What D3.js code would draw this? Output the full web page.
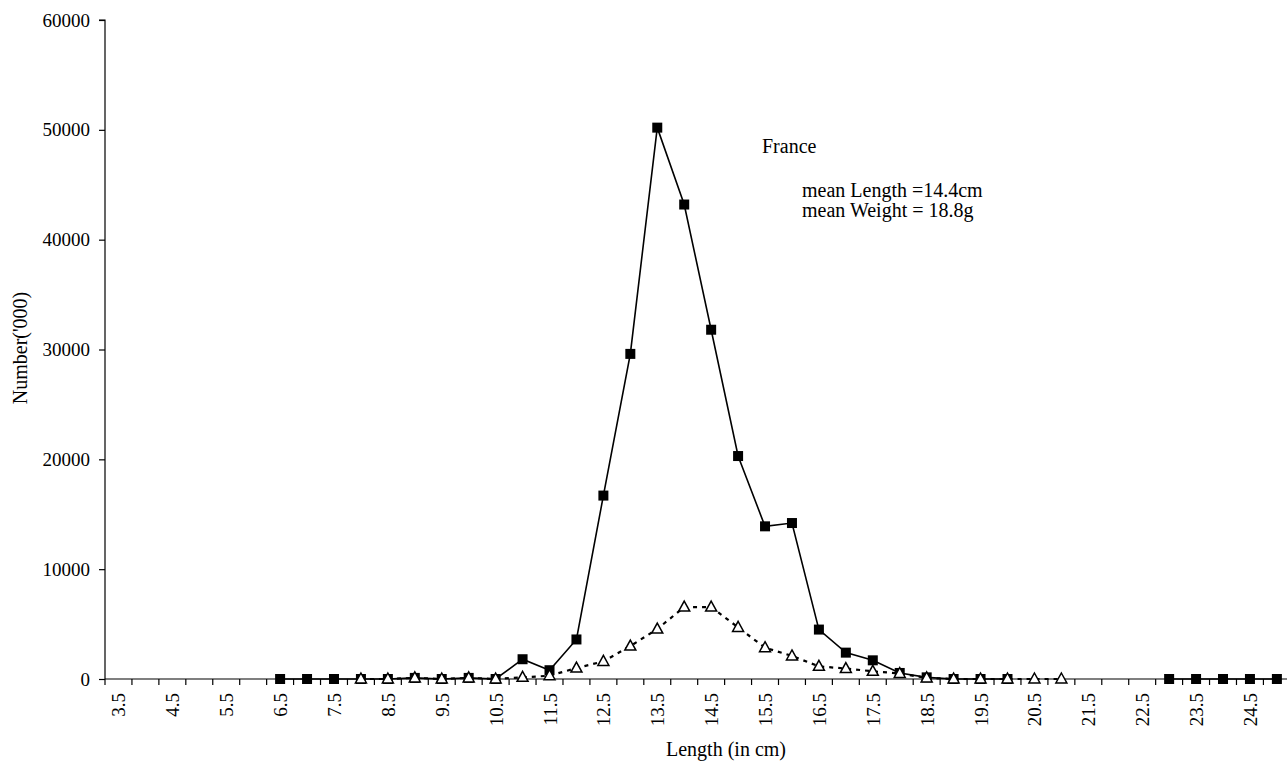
<!DOCTYPE html>
<html><head><meta charset="utf-8">
<script src="https://cdn.jsdelivr.net/npm/d3@7"></script>
<style>
html,body{margin:0;padding:0;background:#fff;}
svg{display:block;font-family:"Liberation Serif","Times New Roman",serif;}
</style></head>
<body>
<svg id="chart" width="1287" height="762"></svg>
<script>
// Length classes (cm)
const categories = ["3.5","4","4.5","5","5.5","6","6.5","7","7.5","8","8.5","9","9.5","10","10.5","11","11.5","12","12.5","13","13.5","14","14.5","15","15.5","16","16.5","17","17.5","18","18.5","19","19.5","20","20.5","21","21.5","22","22.5","23","23.5","24","24.5","25"];
// France numbers ('000), null = no value
const franceValues = [null,null,null,null,null,null,0,0,0,0,0,100,0,100,0,1800,800,3600,16700,29600,50200,43200,31800,20300,13900,14200,4500,2400,1700,550,150,0,0,0,null,null,null,null,null,0,0,0,0,0];
// second series ('000)
const otherValues = [null,null,null,null,null,null,null,null,null,0,0,100,0,100,0,150,300,1000,1600,3000,4550,6550,6550,4700,2850,2100,1150,950,700,500,100,0,0,0,0,0,null,null,null,null,null,null,null,null];
const yTicks = [0,10000,20000,30000,40000,50000,60000];
const xLabels = ["3.5","4.5","5.5","6.5","7.5","8.5","9.5","10.5","11.5","12.5","13.5","14.5","15.5","16.5","17.5","18.5","19.5","20.5","21.5","22.5","23.5","24.5"];
const annotTitle = "France";
const annotLines = ["mean Length =14.4cm","mean Weight = 18.8g"];

(function(){
const svg = d3.select("#chart");
const mLeft = 105, mTop = 20, mBottom = 679, bw = 26.94;
const x = d3.scaleBand().domain(categories).range([mLeft, mLeft + bw*categories.length]).padding(0);
const y = d3.scaleLinear().domain([0,60000]).range([mBottom, mTop]);

// Y axis
const ya = svg.append("g").attr("transform",`translate(${mLeft},0)`)
  .call(d3.axisLeft(y).tickValues(yTicks).tickSize(6).tickPadding(9).tickFormat(d3.format("d")));
ya.select(".domain").attr("stroke","#000").attr("stroke-width",1.2).attr("d",`M-6,${mTop}H0V${mBottom}`);
ya.selectAll(".tick line").attr("stroke","#000").attr("stroke-width",1.2);
ya.selectAll("text").attr("font-size",19).attr("font-family","Liberation Serif").attr("fill","#000");

// X axis line and ticks at category boundaries
const xg = svg.append("g");
xg.append("line").attr("x1",mLeft).attr("x2",x.range()[1]).attr("y1",mBottom).attr("y2",mBottom).attr("stroke","#000").attr("stroke-width",1.2);
const edges = categories.map(c => x(c)).concat([x.range()[1]]);
xg.selectAll("line.tk").data(edges).enter().append("line").attr("class","tk")
  .attr("x1",d=>d).attr("x2",d=>d).attr("y1",mBottom).attr("y2",mBottom+6).attr("stroke","#000").attr("stroke-width",1.2);
xg.selectAll("text.xl").data(xLabels).enter().append("text").attr("class","xl")
  .attr("transform",d=>`translate(${x(d)+x.bandwidth()/2+7},${mBottom+14}) rotate(-90)`)
  .attr("text-anchor","end").attr("font-size",19).attr("fill","#000").text(d=>d);

// axis titles
svg.append("text").attr("x",726).attr("y",756).attr("text-anchor","middle").attr("font-size",20).text("Length (in cm)");
svg.append("text").attr("transform","translate(27,348) rotate(-90)").attr("text-anchor","middle").attr("font-size",20).text("Number('000)");

const cx = i => x(categories[i]) + x.bandwidth()/2;

const line = d3.line().defined(d => d.v !== null).x(d => cx(d.i)).y(d => y(d.v));
const fData = franceValues.map((v,i)=>({v,i}));
const oData = otherValues.map((v,i)=>({v,i}));
// France series
svg.append("path").attr("d",line(fData)).attr("fill","none").attr("stroke","#000").attr("stroke-width",1.6);
svg.selectAll("rect.fr").data(fData.filter(d=>d.v!==null)).enter().append("rect").attr("class","fr")
  .attr("x",d=>cx(d.i)-5).attr("y",d=>y(d.v)-5).attr("width",10).attr("height",10).attr("fill","#000");

// second series
svg.append("path").attr("d",line(oData)).attr("fill","none").attr("stroke","#000").attr("stroke-width",2.2).attr("stroke-dasharray","4,5");
svg.selectAll("path.tri").data(oData.filter(d=>d.v!==null)).enter().append("path").attr("class","tri")
  .attr("d",d=>{const X=cx(d.i),Y=y(d.v);return `M${X},${Y-6}L${X+5.5},${Y+4}L${X-5.5},${Y+4}Z`;})
  .attr("fill","#fff").attr("stroke","#000").attr("stroke-width",1.5);

// annotations
svg.append("text").attr("x",762).attr("y",153).attr("font-size",20).text(annotTitle);
svg.selectAll("text.an").data(annotLines).enter().append("text").attr("class","an")
  .attr("x",802).attr("y",(d,i)=>197+i*20).attr("font-size",20).text(d=>d);
})();
</script>
</body></html>
